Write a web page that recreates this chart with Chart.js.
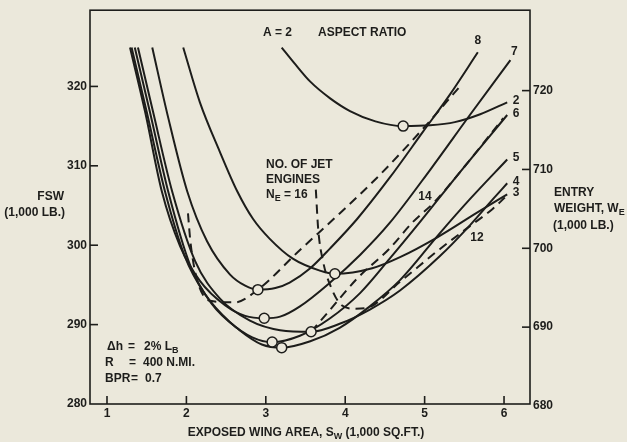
<!DOCTYPE html>
<html>
<head>
<meta charset="utf-8">
<script src="https://cdn.jsdelivr.net/npm/chart.js"></script>
<style>
  html, body { margin: 0; padding: 0; background: #ebe8db; }
  canvas { display: block; }
</style>
</head>
<body>
<canvas id="chart" width="627" height="442"></canvas>
<script>
// exposed wing area (1,000 sq.ft.) vs FSW (1,000 lb.), one curve per aspect ratio
const sw2 = [3.20, 3.37, 3.56, 3.81, 4.06, 4.38, 4.73, 5.07, 5.38, 5.70, 6.04];
const fsw2 = [324.9, 322.8, 320.6, 318.5, 316.9, 315.6, 315.0, 315.1, 315.5, 316.5, 318.0];

const sw3 = [1.96, 2.17, 2.42, 2.64, 2.84, 3.05, 3.34, 3.68, 3.87, 4.34, 4.69, 5.16, 5.66, 6.04];
const fsw3 = [324.9, 318.0, 311.8, 306.8, 303.3, 300.8, 298.3, 296.8, 296.4, 297.1, 298.5, 301.0, 304.1, 306.4];

const sw4 = [1.39, 1.58, 1.82, 2.11, 2.42, 2.80, 3.18, 3.57, 3.93, 4.31, 4.69, 5.19, 5.57, 5.86, 6.04];
const fsw4 = [324.9, 316.8, 306.8, 298.0, 293.3, 290.5, 289.3, 289.1, 290.1, 291.9, 294.3, 298.6, 302.5, 305.8, 307.8];

const sw5 = [1.35, 1.54, 1.77, 2.05, 2.32, 2.67, 2.95, 3.20, 3.56, 3.93, 4.31, 4.69, 5.19, 5.57, 6.04];
const fsw5 = [324.9, 316.8, 306.8, 297.4, 292.6, 289.3, 287.5, 287.1, 287.9, 289.6, 292.3, 295.6, 301.5, 305.8, 310.8];

const sw6 = [1.31, 1.50, 1.73, 1.98, 2.23, 2.55, 2.83, 3.08, 3.43, 3.81, 4.19, 4.56, 4.94, 5.42, 6.04];
const fsw6 = [324.9, 316.8, 306.8, 298.6, 293.9, 290.3, 288.4, 287.8, 288.6, 290.8, 294.0, 298.3, 302.9, 308.9, 316.4];

const sw7 = [1.29, 1.48, 1.69, 1.92, 2.17, 2.49, 2.74, 2.98, 3.18, 3.43, 3.81, 4.19, 4.56, 5.07, 5.57, 6.08];
const fsw7 = [324.9, 316.8, 306.8, 299.9, 295.5, 292.4, 291.1, 290.8, 291.0, 292.3, 295.3, 298.8, 302.8, 309.5, 316.4, 323.3];

const sw8 = [1.57, 1.77, 2.01, 2.26, 2.55, 2.74, 2.90, 3.12, 3.30, 3.56, 3.81, 4.15, 4.56, 4.98, 5.32, 5.67];
const fsw8 = [324.9, 316.1, 306.8, 300.5, 296.3, 294.9, 294.4, 294.6, 295.3, 297.1, 299.6, 303.3, 308.5, 314.3, 319.0, 324.3];

// dashed lines, number of jet engines
const swE16 = [2.02, 2.05, 2.13, 2.30, 2.61, 2.90, 3.43, 3.93, 4.44, 5.00, 5.47];
const fswE16 = [304.0, 300.5, 295.8, 293.0, 292.8, 294.4, 299.4, 304.0, 308.9, 314.9, 320.3];

const swE14 = [3.57, 3.77, 4.15, 4.56, 4.85, 5.13, 5.42, 5.99];
const fswE14 = [289.1, 291.4, 295.8, 299.6, 302.9, 305.5, 308.9, 316.0];

const swE12 = [3.63, 3.66, 3.72, 3.83, 3.96, 4.12, 4.27, 4.69, 5.19, 5.57, 5.86, 6.01];
const fswE12 = [307.0, 302.0, 298.0, 294.5, 292.4, 292.0, 292.1, 295.4, 299.5, 302.4, 304.6, 306.0];

// optimum (circled) points, A = 2 .. 8
const minSw = [4.73, 3.87, 3.57, 3.20, 3.08, 2.98, 2.90];
const minFsw = [315.0, 296.4, 289.1, 287.1, 287.8, 290.8, 294.4];

const aspectRatios = ['2', '3', '4', '5', '6', '7', '8'];
const xTicks = [1, 2, 3, 4, 5, 6];
const fswTicks = [280, 290, 300, 310, 320];
const weTicks = [680, 690, 700, 710, 720];

const ink = '#1d1d1b';
const paper = '#ebe8db';
const font = 'bold 12px "Liberation Sans", Arial, sans-serif';
const subFont = 'bold 9px "Liberation Sans", Arial, sans-serif';

function curve(xs, ys, dashed) {
  return {
    data: xs.map((x, i) => ({ x: x, y: ys[i] })),
    borderColor: ink,
    borderWidth: 2,
    borderDash: dashed ? [9, 6] : [],
    pointRadius: 0,
    fill: false,
    cubicInterpolationMode: 'monotone',
    order: 1
  };
}

const curves = [
  curve(sw2, fsw2), curve(sw3, fsw3), curve(sw4, fsw4), curve(sw5, fsw5),
  curve(sw6, fsw6), curve(sw7, fsw7), curve(sw8, fsw8)
];

const datasets = curves.concat([
  curve(swE16, fswE16, true),
  curve(swE14, fswE14, true),
  curve(swE12, fswE12, true),
  {
    data: minSw.map((x, i) => ({ x: x, y: minFsw[i] })),
    showLine: false,
    pointRadius: 5,
    pointBackgroundColor: paper,
    pointBorderColor: ink,
    pointBorderWidth: 1.5,
    order: 0
  }
]);

// draws text pieces; a piece wrapped in [] is a subscript
function write(ctx, parts, x, y, align) {
  let w = 0;
  parts.forEach(p => {
    ctx.font = Array.isArray(p) ? subFont : font;
    w += ctx.measureText(Array.isArray(p) ? p[0] : p).width;
  });
  let cx = align === 'right' ? x - w : align === 'center' ? x - w / 2 : x;
  parts.forEach(p => {
    const sub = Array.isArray(p);
    const s = sub ? p[0] : p;
    ctx.font = sub ? subFont : font;
    ctx.fillText(s, cx, sub ? y + 4 : y);
    cx += ctx.measureText(s).width;
  });
}

function line(ctx, x1, y1, x2, y2) {
  ctx.beginPath();
  ctx.moveTo(x1, y1);
  ctx.lineTo(x2, y2);
  ctx.stroke();
}

const frame = {
  id: 'frame',
  beforeDraw(chart) {
    const ctx = chart.ctx;
    ctx.save();
    ctx.fillStyle = paper;
    ctx.fillRect(0, 0, chart.width, chart.height);
    ctx.restore();
  },
  afterDraw(chart) {
    const { ctx, chartArea: a, scales } = chart;
    ctx.save();
    ctx.strokeStyle = ink;
    ctx.lineWidth = 1.6;
    ctx.strokeRect(a.left, a.top, a.right - a.left, a.bottom - a.top);

    fswTicks.slice(1).forEach(v => {
      const y = scales.y.getPixelForValue(v);
      line(ctx, a.left, y, a.left + 8, y);
    });
    weTicks.slice(1).forEach(v => {
      const y = scales.y1.getPixelForValue(v);
      line(ctx, a.right - 8, y, a.right, y);
    });
    xTicks.forEach(v => {
      const x = scales.x.getPixelForValue(v);
      line(ctx, x, a.bottom, x, a.bottom - 8);
    });

    ctx.fillStyle = ink;
    ctx.textBaseline = 'middle';
    ctx.textAlign = 'left';

    // aspect ratio at the end of each curve
    curves.forEach((c, i) => {
      const end = c.data[c.data.length - 1];
      let px = scales.x.getPixelForValue(end.x) + 9;
      let py = scales.y.getPixelForValue(end.y) - 1.5;
      if (aspectRatios[i] === '8') { px -= 9; py -= 10; }
      if (aspectRatios[i] === '7') { px -= 5; py -= 7; }
      write(ctx, [aspectRatios[i]], px, py, 'center');
    });

    write(ctx, ['A = 2'], 263, 33);
    write(ctx, ['ASPECT RATIO'], 318, 33);
    write(ctx, ['NO. OF JET'], 266, 165);
    write(ctx, ['ENGINES'], 266, 180);
    write(ctx, ['N', ['E'], ' = 16'], 266, 195);
    write(ctx, ['14'], 425, 197, 'center');
    write(ctx, ['12'], 477, 238, 'center');

    write(ctx, ['\u0394h'], 107, 347);
    write(ctx, ['='], 128, 347);
    write(ctx, ['2% L', ['B']], 144, 347);
    write(ctx, ['R'], 105, 363);
    write(ctx, ['='], 129, 363);
    write(ctx, ['400 N.MI.'], 143, 363);
    write(ctx, ['BPR'], 105, 379);
    write(ctx, ['='], 131, 379);
    write(ctx, ['0.7'], 145, 379);

    write(ctx, ['FSW'], 64, 197, 'right');
    write(ctx, ['(1,000 LB.)'], 65, 213, 'right');
    write(ctx, ['ENTRY'], 554, 193);
    write(ctx, ['WEIGHT, W', ['E']], 554, 209);
    write(ctx, ['(1,000 LB.)'], 553, 226);
    write(ctx, ['EXPOSED WING AREA, S', ['W'], ' (1,000 SQ.FT.)'], 306, 433, 'center');
    ctx.restore();
  }
};

const tickFont = { family: '"Liberation Sans", Arial, sans-serif', size: 12, weight: 'bold' };

new Chart(document.getElementById('chart'), {
  type: 'line',
  data: { datasets: datasets },
  options: {
    responsive: false,
    animation: false,
    devicePixelRatio: 1,
    layout: { padding: { top: 7, left: 0, right: 0, bottom: 0 } },
    plugins: { legend: { display: false }, tooltip: { enabled: false } },
    scales: {
      x: {
        type: 'linear',
        min: 0.786,
        max: 6.327,
        afterBuildTicks: s => { s.ticks = xTicks.map(v => ({ value: v })); },
        afterFit: s => { s.height = 38; },
        grid: { display: false, drawTicks: false },
        border: { display: false },
        ticks: { padding: 2, font: tickFont, color: ink, autoSkip: false }
      },
      y: {
        type: 'linear',
        position: 'left',
        min: 280,
        max: 329.6,
        afterBuildTicks: s => { s.ticks = fswTicks.map(v => ({ value: v })); },
        afterFit: s => { s.width = 90; },
        grid: { display: false, drawTicks: false },
        border: { display: false },
        ticks: { padding: 3, font: tickFont, color: ink, autoSkip: false }
      },
      y1: {
        type: 'linear',
        position: 'right',
        min: 680.25,
        max: 730.2,
        afterBuildTicks: s => { s.ticks = weTicks.map(v => ({ value: v })); },
        afterFit: s => { s.width = 97; },
        grid: { display: false, drawTicks: false },
        border: { display: false },
        ticks: { padding: 3, font: tickFont, color: ink, autoSkip: false }
      }
    }
  },
  plugins: [frame]
});
</script>
</body>
</html>
